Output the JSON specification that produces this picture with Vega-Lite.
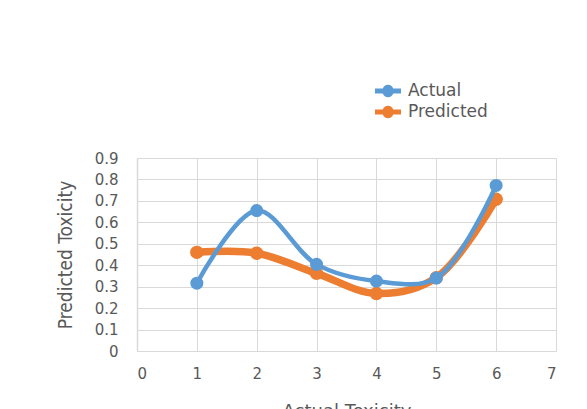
{
  "$schema": "https://vega.github.io/schema/vega-lite/v6.json",
  "width": 419,
  "height": 193,
  "autosize": {"type": "none"},
  "padding": {"left": 137, "top": 158, "right": 31, "bottom": 58},
  "background": "white",
  "config": {
    "view": {"stroke": null},
    "font": "DejaVu Sans",
    "axis": {
      "gridColor": "#d9d9d9",
      "gridWidth": 1,
      "domainColor": "#d9d9d9",
      "domainWidth": 1.5,
      "ticks": false,
      "labelColor": "#595959",
      "labelFont": "DejaVu Sans",
      "labelFontSize": 15,
      "titleColor": "#595959",
      "titleFontWeight": "normal"
    }
  },
  "data": {
    "values": [
      {"x": 1, "y": 0.316, "series": "Actual"},
      {"x": 2, "y": 0.655, "series": "Actual"},
      {"x": 3, "y": 0.404, "series": "Actual"},
      {"x": 4, "y": 0.326, "series": "Actual"},
      {"x": 5, "y": 0.34, "series": "Actual"},
      {"x": 6, "y": 0.772, "series": "Actual"},
      {"x": 1, "y": 0.46, "series": "Predicted"},
      {"x": 2, "y": 0.456, "series": "Predicted"},
      {"x": 3, "y": 0.362, "series": "Predicted"},
      {"x": 4, "y": 0.268, "series": "Predicted"},
      {"x": 5, "y": 0.342, "series": "Predicted"},
      {"x": 6, "y": 0.708, "series": "Predicted"}
    ]
  },
  "encoding": {
    "x": {
      "field": "x",
      "type": "quantitative",
      "scale": {"domain": [0, 7], "nice": false},
      "axis": {
        "values": [0, 1, 2, 3, 4, 5, 6, 7],
        "title": "Actual Toxicity",
        "titleFont": "DejaVu Sans",
        "titleFontSize": 18,
        "titlePadding": 21,
        "labelPadding": 15,
        "domain": false
      }
    },
    "y": {
      "field": "y",
      "type": "quantitative",
      "scale": {"domain": [0, 0.9], "nice": false},
      "axis": {
        "values": [0, 0.1, 0.2, 0.3, 0.4, 0.5, 0.6, 0.7, 0.8, 0.9],
        "format": ".1~f",
        "title": "Predicted Toxicity",
        "titleFont": "DejaVu Sans Condensed, Roboto Condensed, Roboto, sans-serif",
        "titleFontSize": 19,
        "titlePadding": 19,
        "labelPadding": 19
      }
    },
    "color": {
      "field": "series",
      "type": "nominal",
      "scale": {"domain": ["Actual", "Predicted"], "range": ["#5B9BD5", "#ED7D31"]},
      "legend": {
        "orient": "none",
        "legendX": 238,
        "legendY": -80,
        "padding": 0,
        "title": null,
        "labelFont": "DejaVu Sans",
        "labelFontSize": 17,
        "labelColor": "#595959",
        "symbolType": "M-1,-0.19L-0.4,-0.19A0.42,0.42 0 0 1 0.4,-0.19L1,-0.19L1,0.19L0.4,0.19A0.42,0.42 0 0 1 -0.4,0.19L-1,0.19Z",
        "symbolSize": 676,
        "symbolStrokeWidth": 0,
        "rowPadding": -4,
        "labelOffset": 7
      }
    }
  },
  "layer": [
    {
      "transform": [{"filter": "datum.series == 'Predicted'"}],
      "mark": {"type": "line", "interpolate": "catmull-rom", "strokeWidth": 7.5, "strokeCap": "round"}
    },
    {
      "transform": [{"filter": "datum.series == 'Predicted'"}],
      "mark": {"type": "point", "filled": true, "opacity": 1, "size": 180, "shape": "circle"}
    },
    {
      "transform": [{"filter": "datum.series == 'Actual'"}],
      "mark": {"type": "line", "interpolate": "catmull-rom", "strokeWidth": 4.5, "strokeCap": "round"}
    },
    {
      "transform": [{"filter": "datum.series == 'Actual'"}],
      "mark": {"type": "point", "filled": true, "opacity": 1, "size": 170, "shape": "circle"}
    }
  ]
}
